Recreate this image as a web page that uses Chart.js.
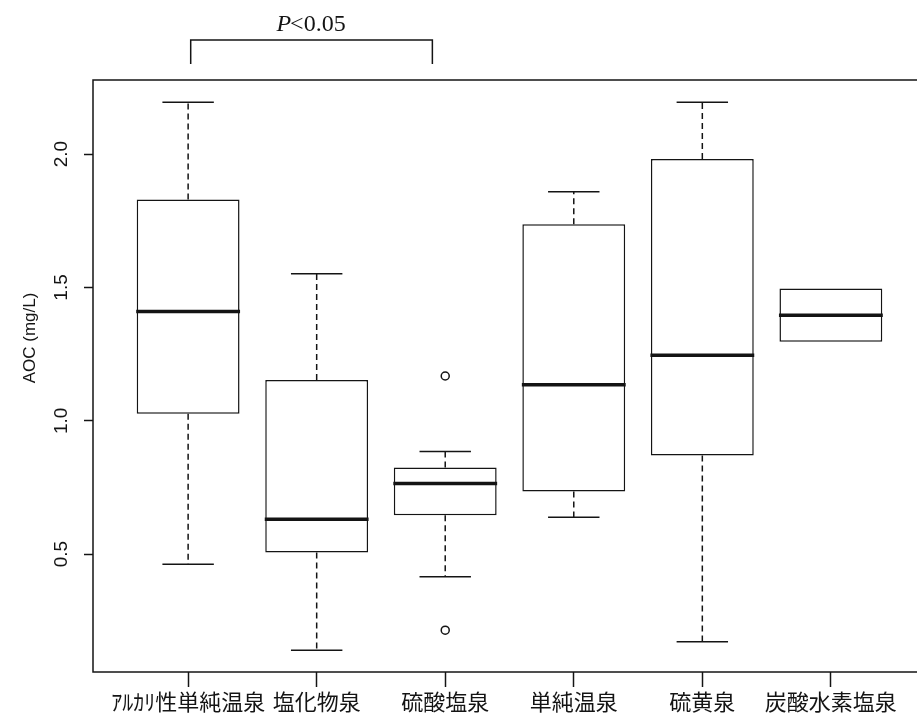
<!DOCTYPE html>
<html>
<head>
<meta charset="utf-8">
<script src="https://cdn.jsdelivr.net/npm/chart.js@4"></script>
<style>
  html, body { margin: 0; padding: 0; background: #fff; overflow: hidden; }
  #wrap { width: 935px; height: 721px; position: relative; }
  canvas { display: block; }
</style>
</head>
<body>
<!-- the canvas is a little wider than the window so the right frame edge falls outside -->
<div id="wrap"><canvas id="c" width="935" height="721"></canvas></div>
<script>
// Hot-spring types and AOC (mg/L) five-number summaries
const springTypes = ['ｱﾙｶﾘ性単純温泉', '塩化物泉', '硫酸塩泉', '単純温泉', '硫黄泉', '炭酸水素塩泉'];
const whiskerLow  = [0.462, 0.140, 0.415, 0.638, 0.171, 1.296];
const lowerQuart  = [1.026, 0.506, 0.646, 0.735, 0.870, 1.296];
const medians     = [1.410, 0.631, 0.765, 1.135, 1.246, 1.396];
const upperQuart  = [1.830, 1.153, 0.825, 1.737, 1.982, 1.496];
const whiskerHigh = [2.195, 1.551, 0.885, 1.859, 2.195, 1.496];
const outliers    = [[], [], [1.168, 0.215], [], [], []];
const yTickValues = [0.5, 1.0, 1.5, 2.0];

// significance bracket between the first and third groups
const bracketFrom = 1.02;
const bracketTo = 2.9;
const bracketLabel = ['P', '<0.05'];

const ink = '#141414';
const positions = springTypes.map((_, i) => i + 1);

const boxes = positions.map((p, i) => ({ x: p, y: [lowerQuart[i], upperQuart[i]] }));
const outlierPoints = [];
outliers.forEach((vals, i) => vals.forEach(v => outlierPoints.push({ x: positions[i], y: v })));

// whiskers, staples, medians, frame and rotated axis texts
const boxplotParts = {
  id: 'boxplotParts',
  afterDatasetsDraw(chart) {
    const { ctx, scales: { x, y } } = chart;
    const meta = chart.getDatasetMeta(0);
    ctx.save();
    ctx.strokeStyle = ink;
    meta.data.forEach((bar, i) => {
      const cx = x.getPixelForValue(positions[i]);
      const half = bar.width / 2;
      const staple = half * 0.5;
      const yHi = y.getPixelForValue(whiskerHigh[i]);
      const yLo = y.getPixelForValue(whiskerLow[i]);
      const yQ3 = y.getPixelForValue(upperQuart[i]);
      const yQ1 = y.getPixelForValue(lowerQuart[i]);
      ctx.lineWidth = 1.5;
      ctx.setLineDash([6, 4]);
      ctx.beginPath();
      if (whiskerHigh[i] > upperQuart[i]) { ctx.moveTo(cx, yQ3); ctx.lineTo(cx, yHi); }
      if (whiskerLow[i] < lowerQuart[i]) { ctx.moveTo(cx, yQ1); ctx.lineTo(cx, yLo); }
      ctx.stroke();
      ctx.setLineDash([]);
      ctx.beginPath();
      if (whiskerHigh[i] > upperQuart[i]) { ctx.moveTo(cx - staple, yHi); ctx.lineTo(cx + staple, yHi); }
      if (whiskerLow[i] < lowerQuart[i]) { ctx.moveTo(cx - staple, yLo); ctx.lineTo(cx + staple, yLo); }
      ctx.stroke();
      const yMed = y.getPixelForValue(medians[i]);
      ctx.lineWidth = 3.5;
      ctx.beginPath();
      ctx.moveTo(cx - half - 0.5, yMed);
      ctx.lineTo(cx + half + 0.5, yMed);
      ctx.stroke();
    });
    ctx.restore();
  },
  afterDraw(chart) {
    const { ctx, chartArea: a, scales: { x, y } } = chart;
    ctx.save();
    // plot frame
    ctx.strokeStyle = ink;
    ctx.lineWidth = 1.5;
    ctx.strokeRect(a.left, a.top, a.right - a.left, a.bottom - a.top);

    // y tick labels, parallel to the axis
    ctx.fillStyle = ink;
    ctx.font = '19px "Liberation Sans", Arial, sans-serif';
    ctx.textAlign = 'center';
    ctx.textBaseline = 'middle';
    yTickValues.forEach(v => {
      ctx.save();
      ctx.translate(62, y.getPixelForValue(v));
      ctx.rotate(-Math.PI / 2);
      ctx.fillText(v.toFixed(1), 0, 0);
      ctx.restore();
    });

    // y axis title
    ctx.save();
    ctx.font = '17px "Liberation Sans", Arial, sans-serif';
    ctx.translate(30, 338);
    ctx.rotate(-Math.PI / 2);
    ctx.fillText('AOC (mg/L)', 0, 0);
    ctx.restore();

    // significance bracket
    const bx1 = x.getPixelForValue(bracketFrom);
    const bx2 = x.getPixelForValue(bracketTo);
    const by = a.top - 40;
    ctx.lineWidth = 1.5;
    ctx.beginPath();
    ctx.moveTo(bx1, a.top - 16);
    ctx.lineTo(bx1, by);
    ctx.lineTo(bx2, by);
    ctx.lineTo(bx2, a.top - 16);
    ctx.stroke();

    ctx.textBaseline = 'alphabetic';
    ctx.textAlign = 'left';
    const italic = 'italic 24px "Liberation Serif", "DejaVu Serif", serif';
    const upright = '24px "Liberation Serif", "DejaVu Serif", serif';
    ctx.font = italic;
    const w1 = ctx.measureText(bracketLabel[0]).width;
    ctx.font = upright;
    const w2 = ctx.measureText(bracketLabel[1]).width;
    const start = (bx1 + bx2) / 2 - (w1 + w2) / 2;
    ctx.font = italic;
    ctx.fillText(bracketLabel[0], start, a.top - 49);
    ctx.font = upright;
    ctx.fillText(bracketLabel[1], start + w1 - 1, a.top - 49);
    ctx.restore();
  }
};

new Chart(document.getElementById('c'), {
  type: 'bar',
  data: {
    datasets: [
      {
        type: 'bar',
        label: 'AOC',
        data: boxes,
        backgroundColor: '#ffffff',
        borderColor: ink,
        borderWidth: 1.5,
        borderSkipped: false,
        categoryPercentage: 1.0,
        barPercentage: 0.8
      },
      {
        type: 'scatter',
        label: 'outliers',
        data: outlierPoints,
        pointRadius: 4,
        pointBorderWidth: 1.5,
        pointBackgroundColor: '#ffffff',
        pointBorderColor: ink,
        showLine: false
      }
    ]
  },
  options: {
    responsive: false,
    animation: false,
    devicePixelRatio: 1,
    layout: { padding: { top: 80, right: 9, left: 0, bottom: 0 } },
    plugins: { legend: { display: false }, tooltip: { enabled: false } },
    scales: {
      x: {
        type: 'linear',
        offset: false,
        min: 0.26,
        max: 6.74,
        afterBuildTicks: s => { s.ticks = positions.map(v => ({ value: v })); },
        afterFit: s => { s.height = 49; },
        border: { display: false },
        grid: {
          offset: false,
          drawOnChartArea: false,
          drawTicks: true,
          tickLength: 15,
          tickWidth: 1.5,
          color: ink
        },
        ticks: {
          autoSkip: false,
          maxRotation: 0,
          minRotation: 0,
          padding: 1,
          color: ink,
          font: { family: '"Noto Sans CJK JP", sans-serif', size: 22 },
          callback: v => springTypes[v - 1] || ''
        }
      },
      y: {
        type: 'linear',
        min: 0.058,
        max: 2.278,
        afterBuildTicks: s => { s.ticks = yTickValues.map(v => ({ value: v })); },
        afterFit: s => { s.width = 93; },
        border: { display: false },
        grid: {
          drawOnChartArea: false,
          drawTicks: true,
          tickLength: 9,
          tickWidth: 1.5,
          color: ink
        },
        ticks: { display: false }
      }
    }
  },
  plugins: [boxplotParts]
});
</script>
</body>
</html>
